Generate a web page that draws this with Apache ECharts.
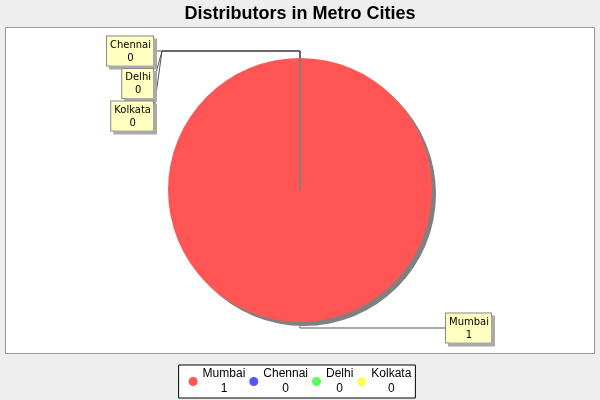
<!DOCTYPE html>
<html>
<head>
<meta charset="utf-8">
<script src="https://cdn.jsdelivr.net/npm/echarts@6/dist/echarts.min.js"></script>
<style>
  html, body { margin: 0; padding: 0; background: #EEEEEE; }
  #container { width: 600px; height: 400px; }
</style>
</head>
<body>
<div id="container"></div>
<script>
// chart data
var cities = ['Mumbai', 'Chennai', 'Delhi', 'Kolkata'];
var distributors = [1, 0, 0, 0];
var sliceColors = ['#FF5555', '#5555FF', '#55FF55', '#FFFF55'];

var CX = 300, CY = 190, R = 132;

var chartDom = document.getElementById('container');
var myChart = echarts.init(chartDom);

var data = cities.map(function (name, i) {
    var item = { name: name, value: distributors[i], itemStyle: { color: sliceColors[i] } };
    if (distributors[i] === 0) {
        item.itemStyle.borderColor = '#808080';
        item.itemStyle.borderWidth = 1;
        item.itemStyle.shadowColor = 'transparent';
    }
    return item;
});

function layoutLabel(params) {
    var i = params.dataIndex;
    if (distributors[i] > 0) {
        var ly = CY + R + 6;
        return {
            x: CX + 146, y: ly, align: 'left', verticalAlign: 'middle',
            labelLinePoints: [[CX, CY + R - 14], [CX, ly], [CX + 146, ly]]
        };
    }
    // zero slices stacked on the left
    var k = i - 1;
    var top = CY - R - 7;
    var y = top + k * 32.5;
    var pts = [[CX, CY - R + 12], [CX, top], [CX - 138, top], [CX - 147, y]];
    return {
        x: CX - 147, y: y, align: 'right', verticalAlign: 'middle',
        labelLinePoints: pts
    };
}

var option = {
    backgroundColor: '#EEEEEE',
    animation: false,
    title: {
        text: 'Distributors in Metro Cities',
        left: 'center',
        top: 0,
        textStyle: {
            fontSize: 18,
            fontWeight: 'bold',
            fontFamily: 'Liberation Sans, Arial, sans-serif',
            color: '#000'
        }
    },
    graphic: [{
        type: 'rect',
        z: -10,
        shape: { x: 5.5, y: 27.5, width: 589, height: 326 },
        style: { fill: '#FFFFFF', stroke: '#999999', lineWidth: 1 }
    }],
    legend: {
        data: cities,
        bottom: 2,
        left: 'center',
        icon: 'circle',
        itemWidth: 9,
        itemHeight: 9,
        itemGap: 4,
        padding: [3, 4, 3, 10],
        backgroundColor: '#FFFFFF',
        borderColor: '#000000',
        borderWidth: 1,
        itemStyle: { borderWidth: 0 },
        formatter: function (name) {
            return '{c|' + name + '}\n{c|' + distributors[cities.indexOf(name)] + '}';
        },
        textStyle: {
            padding: [0, 0, 0, 0],
            rich: {
                c: {
                    align: 'center',
                    fontSize: 12,
                    lineHeight: 15,
                    fontFamily: 'Liberation Sans, Arial, sans-serif',
                    color: '#000'
                }
            }
        }
    },
    series: [{
        name: 'Distributors',
        type: 'pie',
        center: [CX, CY],
        radius: R,
        startAngle: 90,
        clockwise: true,
        avoidLabelOverlap: false,
        stillShowZeroSum: true,
        data: data,
        itemStyle: {
            shadowColor: '#808080',
            shadowBlur: 0,
            shadowOffsetX: 4,
            shadowOffsetY: 4
        },
        label: {
            show: true,
            position: 'outside',
            formatter: '{t|{b}}\n{t|{c}}',
            color: '#000',
            backgroundColor: '#FFFFC0',
            borderColor: '#888888',
            borderWidth: 1,
            padding: [2, 2, 1, 3],
            shadowColor: '#AAAAAA',
            shadowBlur: 0,
            shadowOffsetX: 3,
            shadowOffsetY: 3,
            rich: {
                t: {
                    align: 'center',
                    fontSize: 10,
                    lineHeight: 13,
                    fontFamily: 'DejaVu Sans, sans-serif',
                    color: '#000'
                }
            }
        },
        labelLine: {
            show: true,
            length: 10,
            length2: 10,
            lineStyle: { color: '#555555', width: 1 }
        },
        labelLayout: layoutLabel,
        emphasis: { disabled: true }
    }]
};

option && myChart.setOption(option);
</script>
</body>
</html>
